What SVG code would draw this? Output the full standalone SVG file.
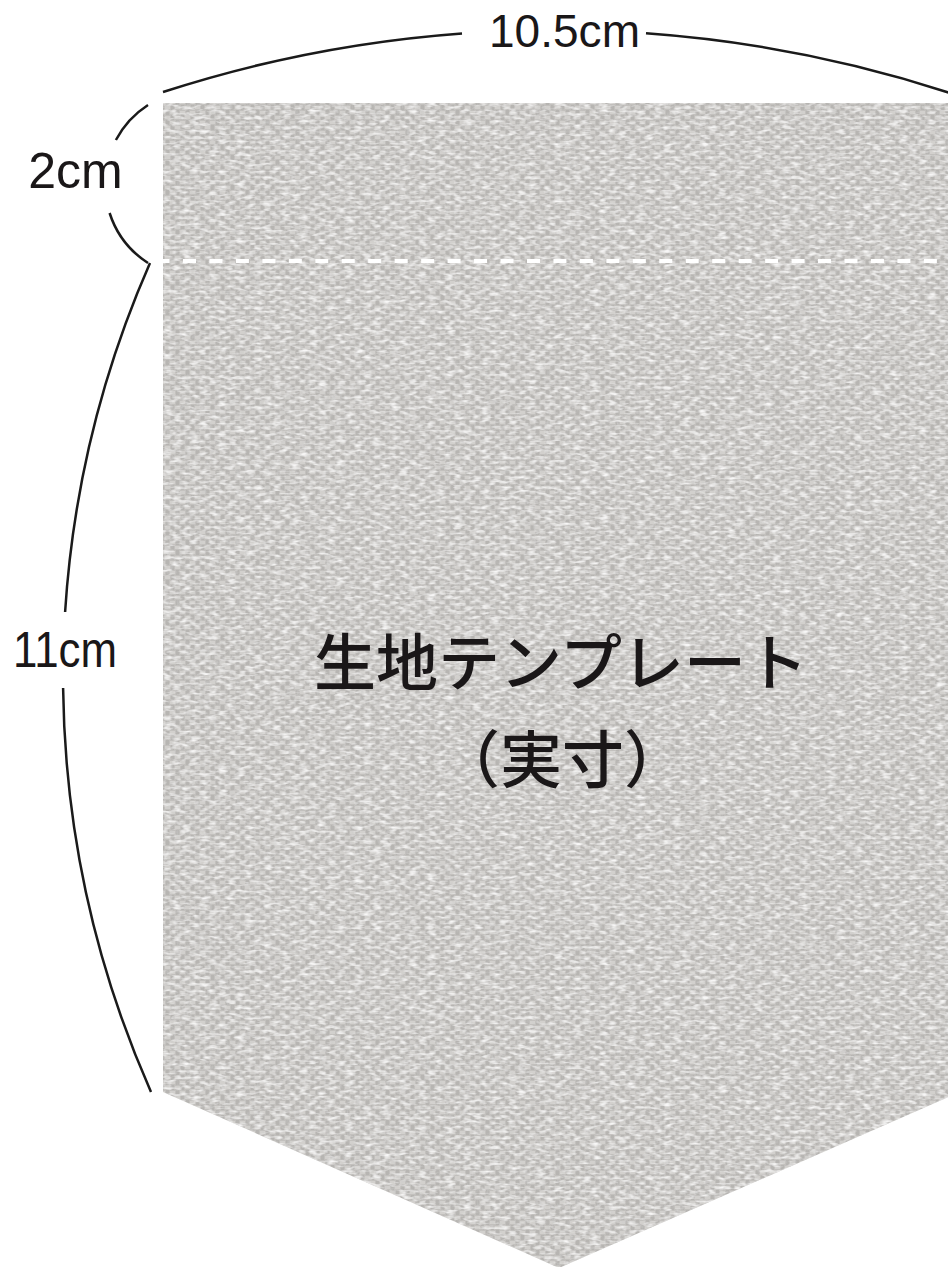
<svg xmlns="http://www.w3.org/2000/svg" width="948" height="1267" viewBox="0 0 948 1267">
  <style>
    .dim { fill: none; stroke: #1a1a1a; stroke-width: 2.5; stroke-linecap: butt; }
    .lbl { fill: #1a1718; font-family: "Liberation Sans", Arial, sans-serif; text-anchor: middle; }
    .jp { fill: #1a1718; font-family: "Noto Sans CJK JP", "Noto Sans", sans-serif; font-weight: 500; text-anchor: middle; }
  </style>
  <defs>
    <pattern id="weavePat" width="10" height="10" patternUnits="userSpaceOnUse">
      <rect width="10" height="10" fill="#c2c0bd"/>
      <rect x="0" y="1" width="5" height="3" fill="#d2d0cd"/>
      <rect x="6" y="0" width="3" height="5" fill="#b7b5b2"/>
      <rect x="5" y="6" width="5" height="3" fill="#d2d0cd"/>
      <rect x="1" y="5" width="3" height="5" fill="#b7b5b2"/>
    </pattern>
    <filter id="tex" x="0" y="0" width="1" height="1">
      <feTurbulence type="fractalNoise" baseFrequency="0.11 0.3" numOctaves="2" seed="7" result="noise"/>
      <feColorMatrix in="noise" type="matrix" values="0 0 0 0 0.93  0 0 0 0 0.925  0 0 0 0 0.92  2.6 0 0 0 -1.2" result="hi"/>
      <feComposite in="hi" in2="SourceGraphic" operator="in" result="hiClip"/>
      <feTurbulence type="fractalNoise" baseFrequency="0.3 0.2" numOctaves="1" seed="3" result="noise2"/>
      <feColorMatrix in="noise2" type="matrix" values="0 0 0 0 0.6  0 0 0 0 0.6  0 0 0 0 0.59  -2.2 0 0 0 0.95" result="lo"/>
      <feComposite in="lo" in2="SourceGraphic" operator="in" result="loClip"/>
      <feMerge><feMergeNode in="SourceGraphic"/><feMergeNode in="loClip"/><feMergeNode in="hiClip"/></feMerge>
    </filter>
  </defs>

  <rect width="948" height="1267" fill="#ffffff"/>

  <g id="fabric">
    <path d="M163,103 H960 V1092 L559,1268 L163,1092 Z" fill="url(#weavePat)" filter="url(#tex)"/>
    <line x1="163" y1="261" x2="948" y2="261" stroke="#ffffff" stroke-width="4" stroke-dasharray="13 13.46" stroke-dashoffset="6.46"/>
  </g>

  <g id="connectors">
    <path class="dim" d="M163,92 A1270,1270 0 0 1 462,33.4"/>
    <path class="dim" d="M646,33.3 A1270,1270 0 0 1 960,96.3"/>
    <path class="dim" d="M148,105 A94,94 0 0 0 115.9,140"/>
    <path class="dim" d="M109.6,213 A94,94 0 0 0 148,263"/>
    <path class="dim" d="M150,263 A1031,1031 0 0 0 65.1,612"/>
    <path class="dim" d="M63.1,688 A1031,1031 0 0 0 151,1092"/>
  </g>

  <g id="label-width">
    <text class="lbl" x="564.5" y="47" font-size="47" textLength="151" lengthAdjust="spacingAndGlyphs">10.5cm</text>
  </g>
  <g id="label-2cm">
    <text class="lbl" x="75.5" y="188" font-size="50">2cm</text>
  </g>
  <g id="label-11cm">
    <text class="lbl" x="65" y="667" font-size="50" textLength="104" lengthAdjust="spacingAndGlyphs">11cm</text>
  </g>
  <g id="title">
    <text class="jp" x="561" y="686" font-size="62">生地テンプレート</text>
    <text class="jp" x="562" y="783" font-size="62">（実寸）</text>
  </g>
</svg>
